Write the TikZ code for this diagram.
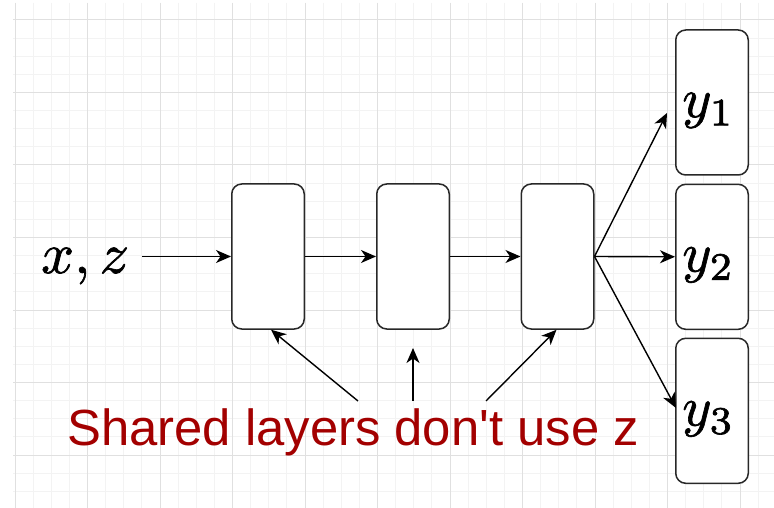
\documentclass[tikz,border=0pt]{standalone}
\usepackage{fontspec}
\newfontfamily\notefont{Liberation Sans}
\usetikzlibrary{arrows.meta}
\definecolor{gridminor}{RGB}{243,243,243}
\definecolor{gridmajor}{RGB}{224,224,224}
\definecolor{notered}{RGB}{163,0,0}
\definecolor{boxline}{RGB}{40,40,40}
% fill-and-stroke text rendering for slightly heavier glyphs
\newcommand\heavytext[1]{\special{pdf:literal direct 2 Tr 0.12 w}#1\special{pdf:literal direct 0 Tr}}
\tikzset{
  layerbox/.style={draw=boxline, line width=1.5bp, rounded corners=10bp, fill=white,
    minimum width=72.5bp, minimum height=145bp, inner sep=0pt},
  % 10pt math (cmmi10 / cmr7 designs) scaled up
  mathlabel/.style={anchor=base, inner sep=0pt, font=\normalsize},
  arr/.style={draw=black, line width=1.4bp,
    -{Stealth[length=15bp, width=13bp, inset=4.5bp]}},
}
\begin{document}
\begin{tikzpicture}[x=1bp, y=-1bp]
  \useasboundingbox (0,0) rectangle (774,508);
  \fill[white] (0,0) rectangle (774,508);
  % background grid: minor lines, then major lines every fourth
  \begin{scope}
    \clip (13,3) rectangle (774,508);
    \foreach \i in {0,...,41} {
      \draw[gridminor, line width=1bp] ({15+18.125*\i},3) -- ({15+18.125*\i},508);
    }
    \foreach \k in {0,...,26} {
      \draw[gridminor, line width=1bp] (13,{20+18.125*\k}) -- (774,{20+18.125*\k});
    }
    \foreach \i in {0,...,10} {
      \draw[gridmajor, line width=1bp] ({15+72.5*\i},3) -- ({15+72.5*\i},508);
    }
    \foreach \k in {0,...,6} {
      \draw[gridmajor, line width=1bp] (13,{20+72.5*\k}) -- (774,{20+72.5*\k});
    }
  \end{scope}

  % shared layers
  \node[layerbox] (b1) at (268,256.5) {};
  \node[layerbox] (b2) at (413,256.5) {};
  \node[layerbox] (b3) at (557.5,256.5) {};

  % task outputs
  \node[layerbox] (y1) at (712,102.5) {};
  \node[layerbox] (y2) at (712,256.8) {};
  \node[layerbox] (y3) at (712,410.8) {};
  \node[mathlabel, scale=5.6] (l1) at (708.5,117) {\heavytext{$y_1$}};
  \node[mathlabel, scale=5.6] (l2) at (708.5,271.5) {\heavytext{$y_2$}};
  \node[mathlabel, scale=5.6] (l3) at (708.5,425.5) {\heavytext{$y_3$}};

  % input
  \node[mathlabel, anchor=base west, scale=5.8] (xz) at (40,273) {\heavytext{$x, z$}};

  % note
  \node[anchor=base west, inner sep=0pt, text=notered, font=\notefont\fontsize{51}{56}\selectfont]
    (note) at (67,445) {Shared layers don't use z};

  % connector end points
  \coordinate (xzout) at (142,256.5);
  \coordinate (t1) at (667,113);
  \coordinate (t3) at (676,408);
  \coordinate (n1) at (358,401);
  \coordinate (n2) at (413,401);
  \coordinate (n2tip) at (413,348);
  \coordinate (n3) at (486,401);

  % forward path
  \draw[arr] (xzout) -- (b1.west);
  \draw[arr] (b1.east) -- (b2.west);
  \draw[arr] (b2.east) -- (b3.west);
  \draw[arr] (b3.east) -- (t1);
  \draw[arr] (b3.east) -- (y2.west);
  \draw[arr] (b3.east) -- (t3);

  % pointers from the note
  \draw[arr] (n1) -- ([xshift=3bp]b1.south);
  \draw[arr] (n2) -- (n2tip);
  \draw[arr] (n3) -- ([xshift=-1bp]b3.south);
\end{tikzpicture}
\end{document}
